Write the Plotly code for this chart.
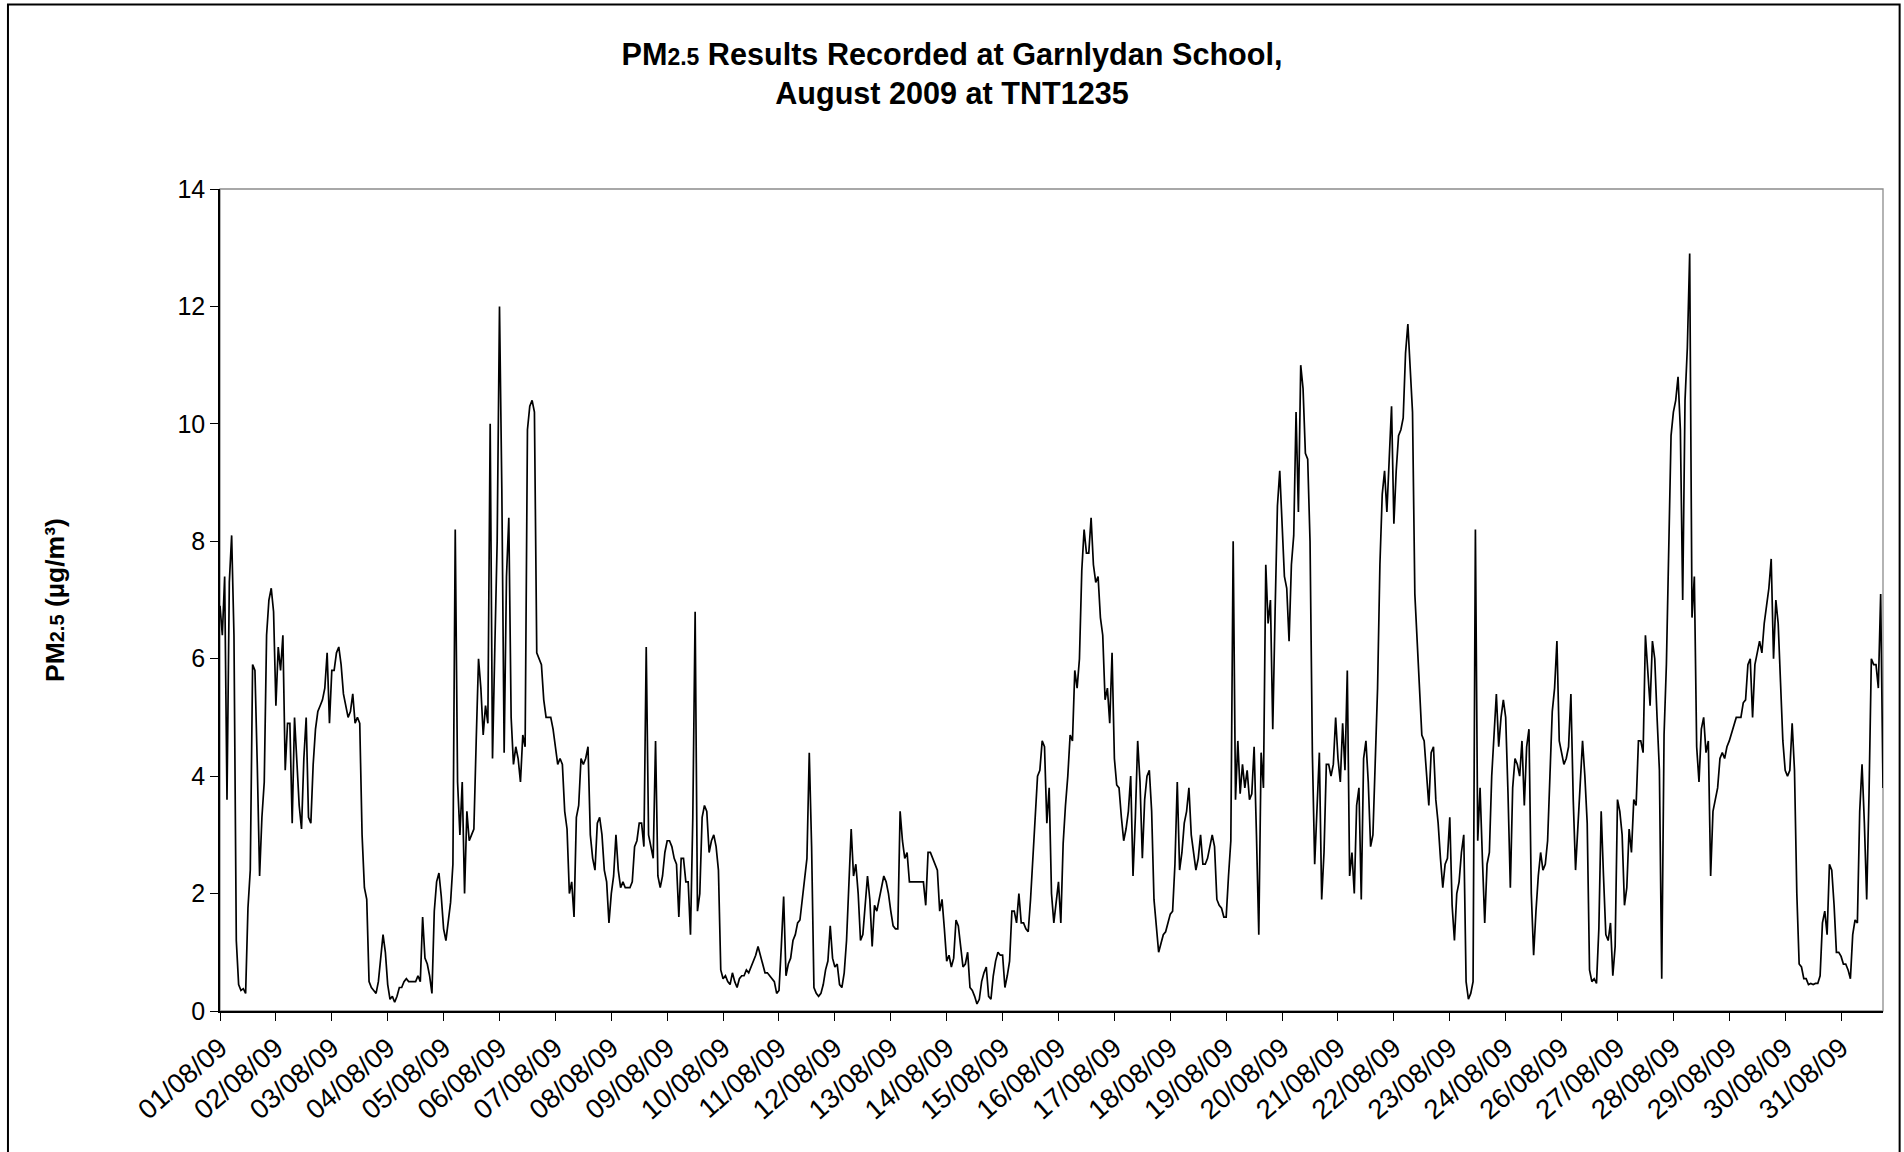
import plotly.graph_objects as go

# Category labels shown on the x axis (one every 24 hourly readings)
tick_labels = [
    "01/08/09", "02/08/09", "03/08/09", "04/08/09", "05/08/09", "06/08/09",
    "07/08/09", "08/08/09", "09/08/09", "10/08/09", "11/08/09", "12/08/09",
    "13/08/09", "14/08/09", "15/08/09", "16/08/09", "17/08/09", "18/08/09",
    "19/08/09", "20/08/09", "21/08/09", "22/08/09", "23/08/09", "24/08/09",
    "26/08/09", "27/08/09", "28/08/09", "29/08/09", "30/08/09", "31/08/09",
]

# Hourly PM2.5 readings (ug/m3), one list per labelled block
aug01 = [6.9, 6.4, 7.4, 3.6, 7.3, 8.1, 6.4, 1.2, 0.45, 0.35, 0.38, 0.3,
         1.75, 2.4, 5.9, 5.8, 4.2, 2.3, 3.3, 3.9, 6.4, 7.0, 7.2, 6.8]
aug02 = [5.2, 6.2, 5.8, 6.4, 4.1, 4.9, 4.9, 3.2, 5.0, 4.2, 3.5, 3.1,
         4.3, 5.0, 3.3, 3.2, 4.2, 4.8, 5.1, 5.2, 5.3, 5.5, 6.1, 4.9]
aug03 = [5.8, 5.8, 6.1, 6.2, 5.9, 5.4, 5.2, 5.0, 5.1, 5.4, 4.9, 5.0,
         4.9, 3.0, 2.1, 1.9, 0.5, 0.4, 0.35, 0.3, 0.5, 0.9, 1.3, 1.0]
aug04 = [0.45, 0.2, 0.25, 0.15, 0.25, 0.4, 0.4, 0.5, 0.55, 0.5, 0.5, 0.5,
         0.5, 0.6, 0.5, 1.6, 0.9, 0.8, 0.6, 0.3, 1.7, 2.2, 2.35, 1.95]
aug05 = [1.4, 1.2, 1.55, 1.85, 2.5, 8.2, 3.9, 3.0, 3.9, 2.0, 3.4, 2.9,
         3.0, 3.1, 4.6, 6.0, 5.5, 4.7, 5.2, 4.9, 10.0, 4.3, 6.2, 8.0]
aug06 = [12.0, 8.9, 4.4, 7.4, 8.4, 5.0, 4.2, 4.5, 4.3, 3.9, 4.7, 4.5,
         9.9, 10.3, 10.4, 10.2, 6.1, 6.0, 5.9, 5.3, 5.0, 5.0, 5.0, 4.8]
aug07 = [4.5, 4.2, 4.3, 4.2, 3.4, 3.1, 2.0, 2.2, 1.6, 3.3, 3.5, 4.3,
         4.2, 4.3, 4.5, 3.0, 2.6, 2.4, 3.2, 3.3, 3.0, 2.4, 2.2, 1.5]
aug08 = [2.0, 2.3, 3.0, 2.4, 2.1, 2.2, 2.1, 2.1, 2.1, 2.2, 2.8, 2.9,
         3.2, 3.2, 2.8, 6.2, 3.0, 2.8, 2.6, 4.6, 2.3, 2.1, 2.3, 2.7]
aug09 = [2.9, 2.9, 2.8, 2.6, 2.5, 1.6, 2.6, 2.6, 2.2, 2.2, 1.3, 3.3,
         6.8, 1.7, 2.0, 3.3, 3.5, 3.4, 2.7, 2.9, 3.0, 2.8, 2.4, 0.7]
aug10 = [0.55, 0.6, 0.5, 0.45, 0.65, 0.5, 0.4, 0.55, 0.6, 0.6, 0.7, 0.65,
         0.75, 0.85, 0.95, 1.1, 0.95, 0.75, 0.65, 0.65, 0.6, 0.55, 0.5, 0.3]
aug11 = [0.35, 1.1, 1.95, 0.6, 0.8, 0.9, 1.2, 1.3, 1.5, 1.55, 1.9, 2.2,
         2.6, 4.4, 2.8, 0.4, 0.3, 0.25, 0.3, 0.45, 0.7, 0.85, 1.45, 0.9]
aug12 = [0.75, 0.8, 0.45, 0.4, 0.65, 1.2, 2.3, 3.1, 2.3, 2.5, 2.0, 1.2,
         1.3, 1.8, 2.3, 1.9, 1.1, 1.8, 1.7, 1.9, 2.1, 2.3, 2.2, 2.0]
aug13 = [1.7, 1.45, 1.4, 1.4, 3.4, 2.9, 2.6, 2.7, 2.2, 2.2, 2.2, 2.2,
         2.2, 2.2, 2.2, 1.8, 2.7, 2.7, 2.6, 2.5, 2.4, 1.7, 1.9, 1.4]
aug14 = [0.85, 0.95, 0.75, 0.9, 1.55, 1.45, 1.1, 0.75, 0.8, 1.0, 0.4, 0.35,
         0.25, 0.12, 0.2, 0.5, 0.65, 0.75, 0.25, 0.2, 0.6, 0.85, 1.0, 0.95]
aug15 = [0.95, 0.4, 0.6, 0.85, 1.7, 1.7, 1.5, 2.0, 1.5, 1.5, 1.4, 1.35,
         1.9, 2.6, 3.3, 4.0, 4.1, 4.6, 4.5, 3.2, 3.8, 2.0, 1.5, 1.9]
aug16 = [2.2, 1.5, 2.85, 3.5, 4.0, 4.7, 4.6, 5.8, 5.5, 6.0, 7.5, 8.2,
         7.8, 7.8, 8.4, 7.6, 7.3, 7.4, 6.7, 6.4, 5.3, 5.5, 4.9, 6.1]
aug17 = [4.3, 3.85, 3.8, 3.3, 2.9, 3.1, 3.4, 4.0, 2.3, 3.3, 4.6, 3.9,
         2.6, 3.6, 4.0, 4.1, 3.4, 1.9, 1.5, 1.0, 1.15, 1.3, 1.35, 1.5]
aug18 = [1.65, 1.7, 2.5, 3.9, 2.4, 2.7, 3.2, 3.4, 3.8, 3.0, 2.7, 2.4,
         2.6, 3.0, 2.5, 2.5, 2.6, 2.8, 3.0, 2.8, 1.9, 1.8, 1.75, 1.6]
aug19 = [1.6, 2.3, 2.9, 8.0, 3.6, 4.6, 3.7, 4.2, 3.8, 4.1, 3.6, 3.7,
         4.5, 3.0, 1.3, 4.4, 3.8, 7.6, 6.6, 7.0, 4.8, 6.8, 8.6, 9.2]
aug20 = [8.3, 7.4, 7.2, 6.3, 7.6, 8.1, 10.2, 8.5, 11.0, 10.6, 9.5, 9.4,
         8.0, 4.4, 2.5, 3.4, 4.4, 1.9, 2.7, 4.2, 4.2, 4.0, 4.2, 5.0]
aug21 = [4.3, 3.9, 4.9, 4.1, 5.8, 2.3, 2.7, 2.0, 3.5, 3.8, 1.9, 4.3,
         4.6, 3.9, 2.8, 3.0, 4.2, 5.5, 7.6, 8.8, 9.2, 8.5, 9.4, 10.3]
aug22 = [8.3, 9.2, 9.8, 9.9, 10.1, 11.2, 11.7, 11.0, 10.2, 7.1, 6.3, 5.6,
         4.7, 4.6, 4.1, 3.5, 4.4, 4.5, 3.6, 3.2, 2.6, 2.1, 2.5, 2.6]
aug23 = [3.3, 1.8, 1.2, 2.0, 2.2, 2.7, 3.0, 0.5, 0.2, 0.3, 0.5, 8.2,
         2.9, 3.8, 2.6, 1.5, 2.5, 2.7, 4.0, 4.8, 5.4, 4.5, 5.0, 5.3]
aug24 = [5.0, 3.7, 2.1, 3.8, 4.3, 4.2, 4.0, 4.6, 3.5, 4.5, 4.8, 2.0,
         0.95, 1.7, 2.3, 2.7, 2.4, 2.5, 2.9, 4.0, 5.1, 5.5, 6.3, 4.6]
aug26 = [4.4, 4.2, 4.3, 4.5, 5.4, 3.6, 2.4, 3.1, 3.7, 4.6, 4.0, 3.2,
         0.7, 0.5, 0.55, 0.47, 1.4, 3.4, 2.3, 1.3, 1.2, 1.5, 0.6, 1.1]
aug27 = [3.6, 3.4, 3.0, 1.8, 2.1, 3.1, 2.7, 3.6, 3.5, 4.6, 4.6, 4.4,
         6.4, 5.7, 5.2, 6.3, 6.0, 5.0, 4.1, 0.55, 4.7, 5.9, 8.2, 9.8]
aug28 = [10.2, 10.4, 10.8, 9.9, 7.0, 10.4, 11.3, 12.9, 6.7, 7.4, 4.5, 3.9,
         4.8, 5.0, 4.4, 4.6, 2.3, 3.4, 3.6, 3.8, 4.3, 4.4, 4.3, 4.5]
aug29 = [4.6, 4.75, 4.9, 5.0, 5.0, 5.0, 5.25, 5.3, 5.9, 6.0, 5.0, 5.9,
         6.1, 6.3, 6.1, 6.6, 6.9, 7.2, 7.7, 6.0, 7.0, 6.6, 5.6, 4.6]
aug30 = [4.1, 4.0, 4.1, 4.9, 4.1, 2.0, 0.8, 0.75, 0.55, 0.55, 0.45, 0.47,
         0.45, 0.47, 0.47, 0.6, 1.5, 1.7, 1.3, 2.5, 2.4, 1.8, 1.0, 1.0]
aug31 = [0.93, 0.8, 0.8, 0.7, 0.55, 1.3, 1.55, 1.5, 3.4, 4.2, 3.2, 1.9,
         3.7, 6.0, 5.9, 5.9, 5.5, 7.1, 3.8]

blocks = [aug01, aug02, aug03, aug04, aug05, aug06, aug07, aug08, aug09, aug10,
          aug11, aug12, aug13, aug14, aug15, aug16, aug17, aug18, aug19, aug20,
          aug21, aug22, aug23, aug24, aug26, aug27, aug28, aug29, aug30, aug31]

pm25 = [v for block in blocks for v in block]
idx = list(range(len(pm25)))
tick_pos = [sum(len(b) for b in blocks[:i]) for i in range(len(blocks))]

FONT = "Liberation Sans, Arial, Helvetica, sans-serif"

fig = go.Figure(
    go.Scatter(
        x=idx, y=pm25, mode="lines",
        line=dict(color="black", width=1.7),
        hovertemplate="%{y:.2f}<extra></extra>",
    )
)

fig.update_layout(
    width=1904, height=1152,
    margin=dict(l=220, r=21, t=189, b=141),
    paper_bgcolor="white", plot_bgcolor="white",
    showlegend=False,
    font=dict(family=FONT, color="black", size=25),
    title=dict(
        text="<b>PM<span style='font-size:23px'>2.5</span> Results Recorded at Garnlydan School,"
             "<br>August 2009 at TNT1235</b>",
        x=0.5, xref="container", xanchor="center",
        y=1 - 64.5 / 1152, yref="container", yanchor="middle",
        font=dict(family=FONT, size=30.6, color="black"),
    ),
    xaxis=dict(
        range=[0, len(pm25) - 1],
        tickmode="array", tickvals=tick_pos, ticktext=tick_labels,
        tickangle=-41, ticks="outside", ticklen=8, tickwidth=1.3, tickcolor="black",
        showline=True, linecolor="black", linewidth=1.6,
        showgrid=False, zeroline=False,
        tickfont=dict(family=FONT, size=27.5, color="black"),
    ),
    yaxis=dict(
        range=[0, 14], dtick=2, tick0=0,
        ticks="outside", ticklen=8, tickwidth=1.3, tickcolor="black",
        showline=True, linecolor="black", linewidth=1.6,
        showgrid=False, zeroline=False,
        tickfont=dict(family=FONT, size=25, color="black"),
    ),
    shapes=[
        # grey plot-area frame
        dict(type="rect", xref="paper", yref="paper", x0=0, x1=1, y0=0, y1=1,
             line=dict(color="#8c8c8c", width=1.3), layer="below"),
        # outer chart-area frame
        dict(type="rect", xref="paper", yref="paper",
             x0=-0.1275, x1=1.0100, y0=-0.19, y1=1.2246,
             line=dict(color="black", width=2), layer="below"),
    ],
    annotations=[
        dict(
            text="<b>PM<span style='font-size:20px'>2.5</span> (µg/m³)</b>",
            xref="paper", yref="paper", x=(55 - 220) / 1663, y=0.5,
            xanchor="center", yanchor="middle", textangle=-90, showarrow=False,
            font=dict(family=FONT, size=26.5, color="black"),
        )
    ],
)

fig.write_html("out.html")
